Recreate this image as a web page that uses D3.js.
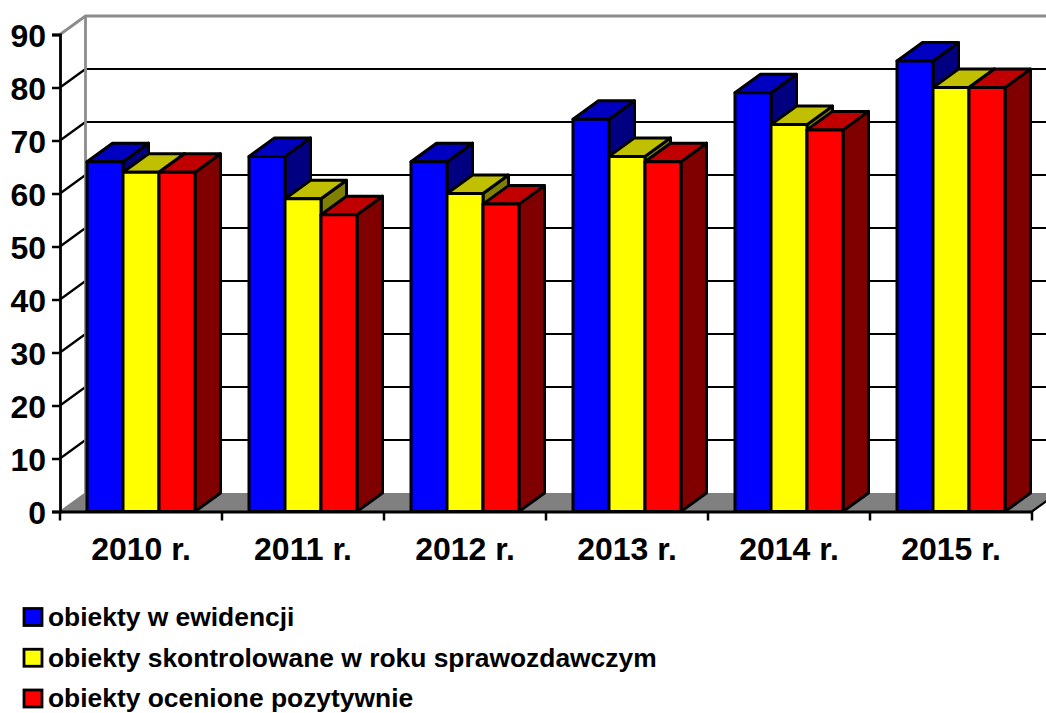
<!DOCTYPE html>
<html><head><meta charset="utf-8">
<script src="https://cdn.jsdelivr.net/npm/d3@7"></script>
<style>html,body{margin:0;padding:0;background:#fff;overflow:hidden}svg{display:block}text{font-family:"Liberation Sans",Arial,sans-serif;font-weight:bold;fill:#000}</style>
</head><body><svg id="c" width="1046" height="713"></svg>
<script>
const categories=["2010 r.","2011 r.","2012 r.","2013 r.","2014 r.","2015 r."];
const evidence=[66,67,66,74,79,85];
const inspected=[64,59,60,67,73,80];
const positive=[64,56,58,66,72,80];
const seriesNames=["obiekty w ewidencji","obiekty skontrolowane w roku sprawozdawczym","obiekty ocenione pozytywnie"];
const seriesValues=[evidence,inspected,positive];
const seriesFill=["#0000ff","#ffff00","#ff0000"];
const seriesTop=["#0000c0","#c0c000","#c00000"];
const seriesSide=["#000080","#808000","#800000"];
const yTicks=[0,10,20,30,40,50,60,70,80,90];

const dx=25.5,dy=-18.5;
const svg=d3.select("#c");
const x=d3.scaleBand().domain(categories).range([60,1032]);
const y=d3.scaleLinear().domain([0,90]).range([511.5,34.5]);
const barW=36,barOff=27;
const pts=a=>a.map(p=>p.join(",")).join(" ");
const x0=x.range()[0],x1=x.range()[1],y0=y(0),yT=y(90);

// walls and floor
svg.append("polygon").attr("points",pts([[x0,y0],[x0+dx,y0+dy],[x1+dx,y0+dy],[x1,y0]])).attr("fill","#808080").attr("stroke","none");
svg.append("g").selectAll("line").data(yTicks.filter(d=>d>0&&d<90)).join("line")
 .attr("x1",x0+dx).attr("x2",x1+dx).attr("y1",d=>y(d)+dy).attr("y2",d=>y(d)+dy).attr("stroke","#000").attr("stroke-width",2.2);
svg.append("g").selectAll("line").data(yTicks.filter(d=>d>0&&d<90)).join("line")
 .attr("x1",x0).attr("x2",x0+dx).attr("y1",d=>y(d)).attr("y2",d=>y(d)+dy).attr("stroke","#000").attr("stroke-width",2.2);
svg.append("polyline").attr("points",pts([[x0,yT],[x0+dx,yT+dy],[x1+dx,yT+dy]])).attr("fill","none").attr("stroke","#8c8c8c").attr("stroke-width",2.8);
svg.append("line").attr("x1",x0+dx).attr("x2",x0+dx).attr("y1",yT+dy).attr("y2",y0+dy).attr("stroke","#8c8c8c").attr("stroke-width",2.8);
svg.append("line").attr("x1",x0).attr("y1",y0).attr("x2",x0+dx).attr("y2",y0+dy).attr("stroke","#808080").attr("stroke-width",1.5);
svg.append("line").attr("x1",x1).attr("y1",y0).attr("x2",x1+dx).attr("y2",y0+dy).attr("stroke","#000").attr("stroke-width",2.2);

// bars
const groups=svg.append("g").selectAll("g").data(categories).join("g");
groups.each(function(c,i){
  const g=d3.select(this);
  seriesValues.forEach((vals,s)=>{
    const l=x(c)+barOff+s*barW,r=l+barW,t=y(vals[i]),b=y0;
    const st={stroke:"#000","stroke-width":3,"stroke-linejoin":"round"};
    const add=(p,f)=>{const e=g.append("polygon").attr("points",pts(p)).attr("fill",f);Object.entries(st).forEach(([k,v])=>e.attr(k,v));};
    add([[r,t],[r+dx,t+dy],[r+dx,b+dy],[r,b]],seriesSide[s]);
    add([[l,t],[l+dx,t+dy],[r+dx,t+dy],[r,t]],seriesTop[s]);
    add([[l,t],[r,t],[r,b],[l,b]],seriesFill[s]);
  });
});

// axes
const axY=d3.axisLeft(y).tickValues(yTicks).tickSize(8).tickPadding(6);
const gy=svg.append("g").attr("transform",`translate(${x0},0)`).call(axY);
gy.selectAll("path").attr("stroke","#000").attr("stroke-width",2.8);
gy.selectAll("line").attr("stroke","#000").attr("stroke-width",2.5);
gy.selectAll("text").attr("font-size",32).attr("dy","0.36em").style("font-family",'"Liberation Sans",Arial,sans-serif').style("font-weight","bold");

const axX=d3.axisBottom(x).tickSize(0).tickPadding(0);
const gx=svg.append("g").attr("transform",`translate(0,${y0})`).call(axX);
gx.select("path").attr("stroke","#000").attr("stroke-width",3);
gx.selectAll("line").remove();
gx.selectAll("text").attr("dy",null).attr("font-size",32).attr("y",48)
  .style("font-family",'"Liberation Sans",Arial,sans-serif').style("font-weight","bold");
svg.append("g").selectAll("line").data(d3.range(categories.length+1)).join("line")
 .attr("x1",i=>x0+i*x.step()).attr("x2",i=>x0+i*x.step()).attr("y1",y0).attr("y2",y0+9).attr("stroke","#000").attr("stroke-width",2.5);

// legend
const rowY=d3.scalePoint().domain(seriesNames).range([608.5,690]);
const textY=d3.scalePoint().domain(seriesNames).range([626,707]);
const lg=svg.append("g").selectAll("g").data(seriesNames).join("g");
lg.append("rect").attr("x",24).attr("y",d=>rowY(d)).attr("width",18).attr("height",17).attr("fill",(d,i)=>seriesFill[i]).attr("stroke","#000").attr("stroke-width",2.8);
lg.append("text").attr("x",48).attr("y",d=>textY(d)).attr("font-size",26.4).text(d=>d);
</script></body></html>
